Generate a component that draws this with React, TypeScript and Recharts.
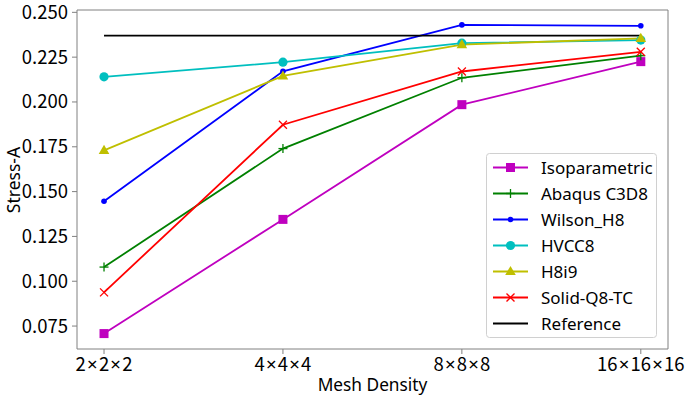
import React from 'react';
import { LineChart, Line, XAxis, YAxis } from 'recharts';

const categories = ['2×2×2', '4×4×4', '8×8×8', '16×16×16'];
const isoparametric = [0.0708, 0.1345, 0.1985, 0.2225];
const abaqusC3D8 = [0.1079, 0.174, 0.2135, 0.2258];
const wilsonH8 = [0.1446, 0.2171, 0.243, 0.2425];
const hvcc8 = [0.214, 0.2222, 0.2328, 0.2345];
const h8i9 = [0.173, 0.2145, 0.232, 0.2355];
const solidQ8TC = [0.0938, 0.1873, 0.217, 0.228];
const reference = [0.237, 0.237, 0.237, 0.237];
const yTicks = [0.075, 0.1, 0.125, 0.15, 0.175, 0.2, 0.225, 0.25];

const FONT = '"Noto Sans", sans-serif';
const TICKFONT = '"Noto Sans CJK SC", "Noto Sans", sans-serif';

const data = categories.map((c, i) => ({
  x: i,
  label: c,
  iso: isoparametric[i],
  abaqus: abaqusC3D8[i],
  wilson: wilsonH8[i],
  hvcc: hvcc8[i],
  h8i9: h8i9[i],
  solid: solidQ8TC[i],
  ref: reference[i],
}));

type MarkerKind = 'square' | 'plus' | 'dot' | 'circle' | 'triangle' | 'x' | 'none';

function marker(kind: MarkerKind, cx: number, cy: number, color: string, key?: any) {
  switch (kind) {
    case 'square':
      return <rect key={key} x={cx - 4.5} y={cy - 4.5} width={9} height={9} fill={color} />;
    case 'plus':
      return (
        <g key={key} stroke={color} strokeWidth={1.3}>
          <line x1={cx - 4.5} y1={cy} x2={cx + 4.5} y2={cy} />
          <line x1={cx} y1={cy - 4.5} x2={cx} y2={cy + 4.5} />
        </g>
      );
    case 'dot':
      return <circle key={key} cx={cx} cy={cy} r={2.8} fill={color} />;
    case 'circle':
      return <circle key={key} cx={cx} cy={cy} r={4.6} fill={color} />;
    case 'triangle':
      return <polygon key={key} points={`${cx},${cy - 5.5} ${cx + 5.3},${cy + 3.6} ${cx - 5.3},${cy + 3.6}`} fill={color} />;
    case 'x':
      return (
        <g key={key} stroke={color} strokeWidth={1.3}>
          <line x1={cx - 4} y1={cy - 4} x2={cx + 4} y2={cy + 4} />
          <line x1={cx - 4} y1={cy + 4} x2={cx + 4} y2={cy - 4} />
        </g>
      );
    default:
      return <g key={key} />;
  }
}

const series: { key: string; name: string; color: string; kind: MarkerKind }[] = [
  { key: 'iso', name: 'Isoparametric', color: '#bf00bf', kind: 'square' },
  { key: 'abaqus', name: 'Abaqus C3D8', color: '#008000', kind: 'plus' },
  { key: 'wilson', name: 'Wilson_H8', color: '#0000ff', kind: 'dot' },
  { key: 'hvcc', name: 'HVCC8', color: '#00bfbf', kind: 'circle' },
  { key: 'h8i9', name: 'H8i9', color: '#bfbf00', kind: 'triangle' },
  { key: 'solid', name: 'Solid-Q8-TC', color: '#ff0000', kind: 'x' },
  { key: 'ref', name: 'Reference', color: '#000000', kind: 'none' },
];

const XTick = (props: any) => {
  const { x, y, payload } = props;
  const parts = String(categories[payload.value]).split('×');
  return (
    <text x={x} y={y + 14.5} textAnchor="middle" fontFamily={TICKFONT} fontSize={18.5} fill="#000">
      {parts.map((p, i) => (
        <React.Fragment key={i}>
          {i > 0 && (
            <tspan fontFamily={FONT} dx={1.2}>
              ×
            </tspan>
          )}
          <tspan dx={i > 0 ? 1.2 : 0}>{p}</tspan>
        </React.Fragment>
      ))}
    </text>
  );
};

const YTick = (props: any) => {
  const { x, y, payload } = props;
  return (
    <text x={x} y={y + 6.5} textAnchor="end" fontFamily={TICKFONT} fontSize={18.5} fill="#000">
      {Number(payload.value).toFixed(3)}
    </text>
  );
};

const YLabel = () => (
  <text x={13} y={180} transform="rotate(-90 13 180)" textAnchor="middle" dominantBaseline="central" fontFamily={FONT} fontSize={17.5} fill="#000">
    Stress-A
  </text>
);

const XLabel = () => (
  <text x={372.5} y={391} textAnchor="middle" fontFamily={FONT} fontSize={17.3} fill="#000">
    Mesh Density
  </text>
);

function LegendBox() {
  return (
    <svg width={199} height={186} style={{ position: 'absolute', left: 486, top: 153, overflow: 'visible' }}>
      <rect x={0.5} y={0.5} width={170} height={184} rx={3} fill="#fff" fillOpacity={0.8} stroke="#d0d0d0" />
      {series.map((s, i) => {
        const cy = 14.5 + i * 26;
        return (
          <g key={s.key}>
            <line x1={7} y1={cy} x2={42} y2={cy} stroke={s.color} strokeWidth={1.8} />
            {marker(s.kind, 24.5, cy, s.color)}
            <text x={55} y={cy + 6.2} fontFamily={FONT} fontSize={17} fill="#000">
              {s.name}
            </text>
          </g>
        );
      })}
    </svg>
  );
}

export default function App() {
  return (
    <div style={{ position: 'absolute', left: 0, top: 0, width: 685, height: 401, background: '#fff' }}>
      <LineChart width={685} height={401} data={data} margin={{ top: 9, right: 16, bottom: 0, left: 0 }} style={{ overflow: 'visible' }}>
        <XAxis
          dataKey="x"
          type="number"
          domain={[-0.151, 3.152]}
          ticks={[0, 1, 2, 3]}
          tick={<XTick />}
          height={52}
          tickSize={5}
          stroke="#808080"
          tickLine={{ stroke: '#808080' }}
          allowDataOverflow
          label={<XLabel />}
        />
        <XAxis xAxisId="top" orientation="top" dataKey="x" type="number" domain={[-0.151, 3.152]} tick={false} tickLine={false} height={1} stroke="#808080" />
        <YAxis
          type="number"
          domain={[0.0622, 0.2513]}
          ticks={yTicks}
          allowDataOverflow
          width={77}
          tickSize={5}
          tickMargin={4}
          stroke="#808080"
          tick={<YTick />}
          label={<YLabel />}
        />
        <YAxis yAxisId="right" orientation="right" domain={[0, 1]} tick={false} tickLine={false} width={1} stroke="#808080" />
        {series.map((s) => (
          <Line
            key={s.key}
            dataKey={s.key}
            name={s.name}
            stroke={s.color}
            strokeWidth={1.8}
            isAnimationActive={false}
            dot={(p: any) => marker(s.kind, p.cx, p.cy, s.color, `${s.key}-${p.index}`)}
            activeDot={false}
          />
        ))}
      </LineChart>
      <LegendBox />
    </div>
  );
}
